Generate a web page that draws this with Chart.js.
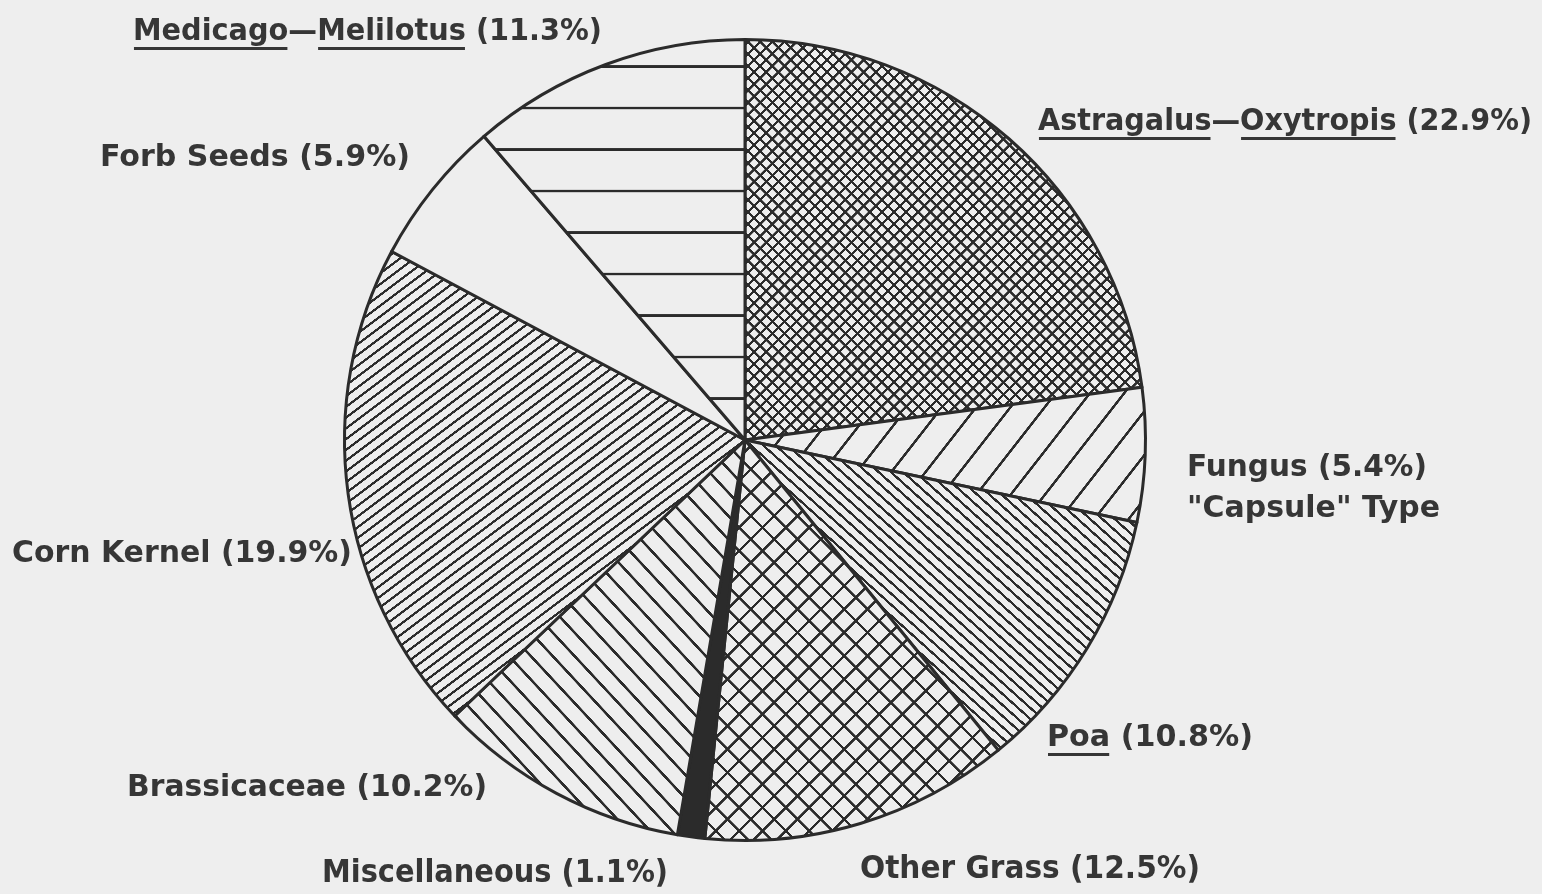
<!DOCTYPE html>
<html><head><meta charset="utf-8">
<script src="https://cdn.jsdelivr.net/npm/chart.js@4.4.0/dist/chart.umd.min.js"></script>
<style>html,body{margin:0;padding:0;background:#eeeeee;overflow:hidden}#wrap{width:1542px;height:894px;position:relative}</style>
</head><body><div id="wrap"><canvas id="c" width="1542" height="894"></canvas></div>
<script>
// ---- data ----
const categories = ["Astragalus—Oxytropis","Fungus","Poa","Other Grass","Miscellaneous","Brassicaceae","Corn Kernel","Forb Seeds","Medicago—Melilotus"];
const percentages = [22.9, 5.4, 10.8, 12.5, 1.1, 10.2, 19.9, 5.9, 11.3];
const labelSuffix = percentages.map(p => " (" + p.toFixed(1) + "%)");

// ---- styles (hatch per slice) ----
const BG = "#eeeeee";
const INK = "#2b2b2b";
const hatch = [
  {type:"grid",  spacing:8.6, angle:45,  lw:2.3},
  {type:"lines", spacing:27,  angle:-52, lw:2.6},
  {type:"lines", spacing:8.2, angle:42,  lw:2.3},
  {type:"grid",  spacing:16.5,angle:45,  lw:2.5},
  {type:"solid"},
  {type:"lines", spacing:16,  angle:47,  lw:2.6},
  {type:"lines", spacing:8.6, angle:-37, lw:2.3},
  {type:"none"},
  {type:"lines", spacing:41.5,angle:0,   lw:2.6, phase:41.5}
];

const patternCache = {};
function makePattern(chart, i) {
  const h = hatch[i];
  if (h.type === "solid") return INK;
  if (h.type === "none") return BG;
  const a = chart.chartArea;
  if (!a) return BG;
  const cx = (a.left + a.right) / 2, cy = (a.top + a.bottom) / 2;
  const key = i + "_" + cx + "_" + cy;
  if (patternCache[key]) return patternCache[key];
  const N = 64;
  const t = document.createElement("canvas");
  t.width = N; t.height = N;
  const g = t.getContext("2d");
  g.fillStyle = BG; g.fillRect(0, 0, N, N);
  g.strokeStyle = INK;
  g.lineWidth = h.lw * N / h.spacing;
  g.beginPath();
  g.moveTo(-2, N/2); g.lineTo(N+2, N/2);
  if (h.type === "grid") { g.moveTo(N/2, -2); g.lineTo(N/2, N+2); }
  g.stroke();
  const p = chart.ctx.createPattern(t, "repeat");
  let m = new DOMMatrix().translate(cx, cy).rotate(h.angle);
  if (h.phase) m = m.translate(0, h.phase);
  m = m.translate(0, -h.spacing/2).scale(h.spacing / N);
  p.setTransform(m);
  patternCache[key] = p;
  return p;
}

// ---- label layout (annotation placement) ----
const labelLayout = [
  {i:0, lines:[categories[0] + labelSuffix[0]], x:1038, y:130, w:[494], under:["Astragalus","Oxytropis"]},
  {i:1, lines:[categories[1] + labelSuffix[1], "\"Capsule\" Type"], x:1187, y:476, dy:41, w:[240,253]},
  {i:2, lines:[categories[2] + labelSuffix[2]], x:1047, y:746, w:[206], under:["Poa"]},
  {i:3, lines:[categories[3] + labelSuffix[3]], x:860, y:878, w:[340], cond:true},
  {i:4, lines:[categories[4] + labelSuffix[4]], x:322, y:882, w:[346], cond:true},
  {i:5, lines:[categories[5] + labelSuffix[5]], x:127, y:796, w:[360]},
  {i:6, lines:[categories[6] + labelSuffix[6]], x:12, y:562, w:[340]},
  {i:7, lines:[categories[7] + labelSuffix[7]], x:100, y:166, w:[310]},
  {i:8, lines:[categories[8] + labelSuffix[8]], x:133, y:40, w:[469], under:["Medicago","Melilotus"]}
];

const labelPlugin = {
  id: "labels",
  afterDraw(chart) {
    const ctx = chart.ctx;
    ctx.save();
    ctx.fillStyle = "#363636";
    ctx.strokeStyle = "#363636";
    ctx.textBaseline = "alphabetic";
    ctx.textAlign = "left";
    labelLayout.forEach(L => {
      ctx.font = L.cond ? 'bold 32px "DejaVu Sans Condensed"' : 'bold 30px "DejaVu Sans"';
      L.lines.forEach((txt, k) => {
        const y = L.y + k * (L.dy || 0);
        const natural = ctx.measureText(txt).width;
        const sx = (L.w && L.w[k]) ? L.w[k] / natural : 1;
        ctx.save();
        ctx.translate(L.x, y);
        ctx.scale(sx, 1);
        ctx.fillText(txt, 0, 0);
        if (k === 0 && L.under) {
          ctx.lineWidth = 2.8;
          L.under.forEach(word => {
            const idx = txt.indexOf(word);
            const x0 = ctx.measureText(txt.slice(0, idx)).width;
            const x1 = x0 + ctx.measureText(word).width;
            ctx.beginPath();
            ctx.moveTo(x0 + 1, 8.5);
            ctx.lineTo(x1 - 1, 8.5);
            ctx.stroke();
          });
        }
        ctx.restore();
      });
    });
    ctx.restore();
  }
};

const bgPlugin = {
  id: "bg",
  beforeDraw(chart) {
    const c = chart.ctx;
    c.save(); c.fillStyle = BG; c.fillRect(0, 0, chart.width, chart.height); c.restore();
  }
};

new Chart(document.getElementById("c"), {
  type: "pie",
  data: {
    labels: categories,
    datasets: [{
      data: percentages,
      backgroundColor: (ctx) => makePattern(ctx.chart, ctx.dataIndex),
      borderColor: INK,
      borderWidth: 3,
      borderJoinStyle: "round"
    }]
  },
  options: {
    responsive: false,
    animation: false,
    events: [],
    layout: { padding: { left: 343, right: 395, top: 38, bottom: 52 } },
    plugins: { legend: { display: false }, tooltip: { enabled: false } }
  },
  plugins: [bgPlugin, labelPlugin]
});
</script>
</body></html>
